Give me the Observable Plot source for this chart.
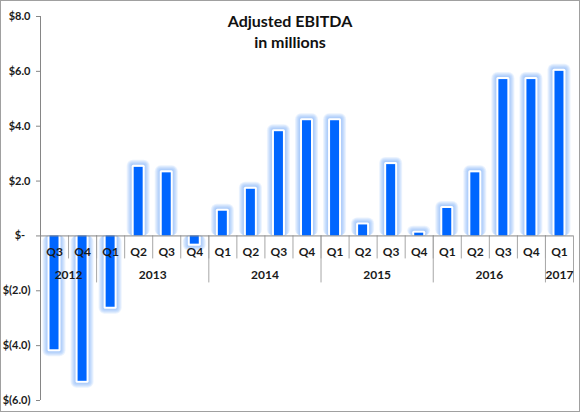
<!DOCTYPE html>
<html>
<head>
<meta charset="utf-8">
<script src="https://cdn.jsdelivr.net/npm/d3@7"></script>
<script src="https://cdn.jsdelivr.net/npm/@observablehq/plot@0.6"></script>
<style>
  html, body { margin: 0; padding: 0; background: #fff; }
  #wrap { position: relative; width: 578px; height: 410px; border: 1px solid #a0a0a0; background: #fff; overflow: hidden; }
  #title { position: absolute; left: 0; top: 9px; width: 578px; text-align: center; font: bold 16px Lato, "Open Sans", sans-serif; line-height: 21px; color: #111; pointer-events: none; }
  #wrap svg text { fill: #1a1a1a; }
  #wrap svg [aria-label^="y-axis"] text, #wrap svg [aria-label^="y-axis"] { font-size: 11px; }
</style>
</head>
<body>
<div id="wrap">
  <div id="title">Adjusted EBITDA<br>in millions</div>
</div>
<script>
const quarters = ["Q3","Q4","Q1","Q2","Q3","Q4","Q1","Q2","Q3","Q4","Q1","Q2","Q3","Q4","Q1","Q2","Q3","Q4","Q1"];
const years = ["2012","2012","2013","2013","2013","2013","2014","2014","2014","2014","2015","2015","2015","2015","2016","2016","2016","2016","2017"];
const values = [-4.15,-5.3,-2.6,2.5,2.3,-0.3,0.9,1.7,3.8,4.2,4.2,0.4,2.6,0.1,1.0,2.3,5.7,5.7,6.0];
const yTicks = [8,6,4,2,0,-2,-4,-6];

const fmt = v => v === 0 ? "$-\u00a0\u00a0" : v < 0 ? `$(${(-v).toFixed(1)})` : `$${v.toFixed(1)}`;

const rows = quarters.map((q, i) => ({i, quarter: q, year: years[i], value: values[i]}));
const pos = rows.filter(r => r.value >= 0);
const neg = rows.filter(r => r.value < 0);
const half = 0.16;

const yearNames = Array.from(new Set(years));
const yearGroups = yearNames.map(y => {
  const idx = rows.filter(r => r.year === y).map(r => r.i);
  return {year: y, center: d3.mean(idx), end: d3.max(idx) + 0.5};
});
const quarterSeps = rows.slice(0, -1).map(r => r.i + 0.5);
const yearSeps = yearGroups.map(g => g.end);

const barOpts = {x1: d => d.i - half, x2: d => d.i + half, y1: 0, y2: "value"};

// soft glow + white halo layers, split by sign so the halo stops at the zero line
function halo(data, positive) {
  const layers = [];
  for (const e of [7, 6, 5, 4, 3]) {
    layers.push(Plot.rectY(data, {...barOpts, fill: "#4a90f5", fillOpacity: 0.11, rx: e - 1,
      insetLeft: -e, insetRight: -e,
      insetTop: positive ? -e : 0, insetBottom: positive ? 0 : -e}));
  }
  layers.push(Plot.rectY(data, {...barOpts, fill: "white", rx: 1.5,
    insetLeft: -2, insetRight: -2,
    insetTop: positive ? -2 : 0, insetBottom: positive ? 0 : -2}));
  return layers;
}

const plot = Plot.plot({
  width: 578,
  height: 410,
  marginTop: 15,
  marginBottom: 11,
  marginLeft: 39,
  marginRight: 6,
  style: {fontFamily: "Lato, 'Open Sans', sans-serif", fontSize: "12px", fontWeight: "bold", color: "#868686", background: "transparent"},
  x: {domain: [-0.5, quarters.length - 0.5], axis: null},
  y: {domain: [-6, 8], ticks: yTicks, tickFormat: fmt, tickSize: 4, tickPadding: 6, label: null},
  marks: [
    Plot.ruleX([-0.5], {stroke: "#868686"}),
    Plot.ruleX(quarterSeps, {x: d => d, y1: 0, y2: 0, insetBottom: -23, stroke: "#a6a6a6"}),
    Plot.ruleX(yearSeps, {x: d => d, y1: 0, y2: 0, insetBottom: -47, stroke: "#a6a6a6"}),
    ...halo(pos, true),
    ...halo(neg, false),
    Plot.rectY(rows, {...barOpts, fill: "#0066ff"}),
    Plot.ruleY([0], {stroke: "#868686"}),
    Plot.text(rows, {x: "i", y: 0, text: "quarter", dy: 16, fill: "#1a1a1a", fontSize: 12, fontWeight: "bold"}),
    Plot.text(yearGroups, {x: "center", y: 0, text: "year", dy: 39, fill: "#1a1a1a", fontSize: 12, fontWeight: "bold"})
  ]
});

document.getElementById("wrap").prepend(plot);
</script>
</body>
</html>
